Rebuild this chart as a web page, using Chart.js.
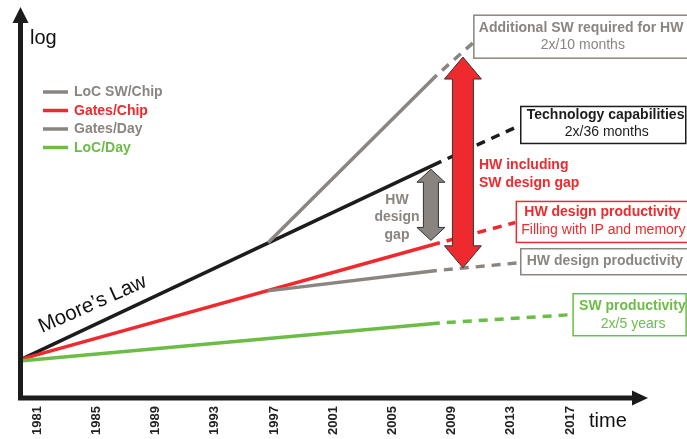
<!DOCTYPE html>
<html>
<head>
<meta charset="utf-8">
<script src="https://cdn.jsdelivr.net/npm/chart.js@4.4.1/dist/chart.umd.min.js"></script>
<style>
  html, body { margin: 0; background: #fff; }
  #wrap { width: 687px; height: 439px; position: relative; }
</style>
</head>
<body>
<div id="wrap"><canvas id="gapChart"></canvas></div>
<script>
// tick labels on the time axis
const years = [1981, 1985, 1989, 1993, 1997, 2001, 2005, 2009, 2013, 2017];

// each series: [start, end of solid part, end of dashed projection]
// y is in arbitrary log units (0 = time axis, 100 = top of the log axis)
const locSwYears = [1996.6, 2008.0, 2010.5];
const locSwValues = [39.7, 82.6, 91.0];

const techYears = [1980, 2008.3, 2013.6];
const techValues = [10.0, 60.5, 69.7];

const gatesChipYears = [1980, 2008.2, 2013.3];
const gatesChipValues = [10.0, 39.7, 44.9];

const gatesDayYears = [1996.6, 2008.0, 2013.6];
const gatesDayValues = [27.4, 32.6, 34.6];

const locDayYears = [1980, 2008.2, 2017.0];
const locDayValues = [9.5, 19.2, 21.3];

// the two gap arrows: [year, top, bottom]
const swGapArrow = [2009.76, 87.2, 33.3];
const hwGapArrow = [2007.6, 58.5, 40.3];

const legendLabels = ["LoC SW/Chip", "Gates/Chip", "Gates/Day", "LoC/Day"];

const GRAY = "#8b8581";
const RED = "#ee2a2e";
const GREEN = "#6cbd45";
const BLACK = "#1c1c1c";
const legendColors = [GRAY, RED, GRAY, GREEN];
const FONT = '"Liberation Sans", Arial, Helvetica, sans-serif';

function part(xs, ys, from, to) {
  const out = [];
  for (let i = from; i <= to; i++) out.push({ x: xs[i], y: ys[i] });
  return out;
}

function solid(xs, ys, color) {
  return {
    data: part(xs, ys, 0, 1),
    borderColor: color,
    borderWidth: 3.5,
    pointRadius: 0,
    tension: 0,
  };
}

function dashed(xs, ys, color) {
  return {
    data: part(xs, ys, 1, 2),
    borderColor: color,
    borderWidth: 3.5,
    borderDash: [9, 7],
    borderDashOffset: 9,
    pointRadius: 0,
    tension: 0,
  };
}

// callout boxes at the end of the dashed projections
const notes = [
  { xs: locSwYears, ys: locSwValues, color: GRAY, dx: 0, dy: -27, h: 43, w: 240,
    lines: [["Additional SW required for HW", "bold", "left", 5, 13],
            ["2x/10 months", "normal", "center", 109, 30]] },
  { xs: techYears, ys: techValues, color: BLACK, dx: 1, dy: -19, h: 37, w: 165,
    lines: [["Technology capabilities", "bold", "left", 6, 9],
            ["2x/36 months", "normal", "center", 86, 26]] },
  { xs: gatesChipYears, ys: gatesChipValues, color: RED, dx: 1, dy: -21, h: 41, w: 240,
    lines: [["HW design productivity", "bold", "left", 8, 11],
            ["Filling with IP and memory", "normal", "left", 5, 29]] },
  { xs: gatesDayYears, ys: gatesDayValues, color: GRAY, dx: 1, dy: -14, h: 26, w: 240,
    lines: [["HW design productivity", "bold", "left", 6, 12]] },
  { xs: locDayYears, ys: locDayValues, color: GREEN, dx: 3, dy: -21, h: 42, w: 113,
    lines: [["SW productivity", "bold", "left", 6, 12],
            ["2x/5 years", "normal", "center", 60, 30]] },
];

function doubleArrow(ctx, cx, yTop, yBot, shaftW, headW, headL, fill) {
  ctx.beginPath();
  ctx.moveTo(cx, yTop);
  ctx.lineTo(cx + headW / 2, yTop + headL);
  ctx.lineTo(cx + shaftW / 2, yTop + headL);
  ctx.lineTo(cx + shaftW / 2, yBot - headL);
  ctx.lineTo(cx + headW / 2, yBot - headL);
  ctx.lineTo(cx, yBot);
  ctx.lineTo(cx - headW / 2, yBot - headL);
  ctx.lineTo(cx - shaftW / 2, yBot - headL);
  ctx.lineTo(cx - shaftW / 2, yTop + headL);
  ctx.lineTo(cx - headW / 2, yTop + headL);
  ctx.closePath();
  ctx.fillStyle = fill;
  ctx.fill();
  ctx.strokeStyle = "#333";
  ctx.lineWidth = 1;
  ctx.stroke();
}

const decorations = {
  id: "decorations",
  afterDatasetsDraw(chart) {
    const ctx = chart.ctx;
    const xs = chart.scales.x;
    const ys = chart.scales.y;
    const area = chart.chartArea;
    ctx.save();

    // gap arrows
    doubleArrow(ctx, xs.getPixelForValue(hwGapArrow[0]), ys.getPixelForValue(hwGapArrow[1]),
      ys.getPixelForValue(hwGapArrow[2]), 15, 28, 13, "#8a8480");
    doubleArrow(ctx, xs.getPixelForValue(swGapArrow[0]), ys.getPixelForValue(swGapArrow[1]),
      ys.getPixelForValue(swGapArrow[2]), 21, 37, 22, RED);

    // callout boxes
    ctx.textBaseline = "middle";
    notes.forEach((n) => {
      const bx = xs.getPixelForValue(n.xs[2]) + n.dx;
      const by = ys.getPixelForValue(n.ys[2]) + n.dy;
      ctx.fillStyle = "#fff";
      ctx.fillRect(bx, by, n.w, n.h);
      ctx.strokeStyle = n.color;
      ctx.lineWidth = 1.5;
      ctx.strokeRect(bx, by, n.w, n.h);
      n.lines.forEach((l) => {
        ctx.font = l[1] + " 14px " + FONT;
        ctx.textAlign = l[2];
        ctx.fillStyle = n.color;
        ctx.fillText(l[0], bx + l[3], by + l[4]);
      });
    });

    // gap labels
    ctx.font = "bold 14px " + FONT;
    ctx.fillStyle = GRAY;
    ctx.textAlign = "center";
    ["HW", "design", "gap"].forEach((t, i) => ctx.fillText(t, 397, 200 + i * 17.5));
    ctx.fillStyle = RED;
    ctx.textAlign = "left";
    ctx.fillText("HW including", 479, 165);
    ctx.fillText("SW design gap", 479, 183);

    // legend
    legendLabels.forEach((t, i) => {
      const y = 92 + i * 18.5;
      ctx.strokeStyle = legendColors[i];
      ctx.lineWidth = 3.5;
      ctx.beginPath();
      ctx.moveTo(43, y);
      ctx.lineTo(68, y);
      ctx.stroke();
      ctx.font = "bold 14px " + FONT;
      ctx.fillStyle = legendColors[i];
      ctx.fillText(t, 74, y + 0.5);
    });

    // Moore's Law along the black line
    ctx.save();
    ctx.translate(42, 333);
    ctx.rotate(-24 * Math.PI / 180);
    ctx.font = "20.5px " + FONT;
    ctx.fillStyle = "#111";
    ctx.textBaseline = "alphabetic";
    ctx.fillText("Moore\u2019s Law", 0, 0);
    ctx.restore();

    // axes with arrow heads
    const ax = area.left + 0.5;
    const ay = area.bottom;
    ctx.strokeStyle = BLACK;
    ctx.fillStyle = BLACK;
    ctx.lineWidth = 5;
    ctx.beginPath();
    ctx.moveTo(ax, ay + 2.5);
    ctx.lineTo(ax, area.top + 14);
    ctx.moveTo(ax - 2.5, ay);
    ctx.lineTo(area.right - 14, ay);
    ctx.stroke();
    ctx.beginPath();
    ctx.moveTo(ax, area.top);
    ctx.lineTo(ax + 8, area.top + 16);
    ctx.lineTo(ax - 8, area.top + 16);
    ctx.closePath();
    ctx.fill();
    ctx.beginPath();
    ctx.moveTo(area.right, ay);
    ctx.lineTo(area.right - 16, ay - 7.5);
    ctx.lineTo(area.right - 16, ay + 7.5);
    ctx.closePath();
    ctx.fill();

    // axis titles
    ctx.font = "20px " + FONT;
    ctx.fillStyle = "#111";
    ctx.textAlign = "left";
    ctx.textBaseline = "middle";
    ctx.fillText("log", 30, 38);
    ctx.fillText("time", 589, 421);
    ctx.restore();
  },
};

new Chart(document.getElementById("gapChart"), {
  type: "line",
  data: {
    datasets: [
      solid(locDayYears, locDayValues, GREEN),
      dashed(locDayYears, locDayValues, GREEN),
      solid(gatesDayYears, gatesDayValues, GRAY),
      dashed(gatesDayYears, gatesDayValues, GRAY),
      solid(gatesChipYears, gatesChipValues, RED),
      dashed(gatesChipYears, gatesChipValues, RED),
      solid(locSwYears, locSwValues, GRAY),
      dashed(locSwYears, locSwValues, GRAY),
      solid(techYears, techValues, BLACK),
      dashed(techYears, techValues, BLACK),
    ],
  },
  options: {
    responsive: true,
    maintainAspectRatio: false,
    animation: false,
    layout: { padding: { left: 20, right: 39, top: 7, bottom: 0 } },
    plugins: { legend: { display: false }, tooltip: { enabled: false } },
    scales: {
      x: {
        type: "linear",
        min: 1979.85,
        max: 2022.26,
        grid: { display: false, drawTicks: false },
        border: { display: false },
        afterBuildTicks: (scale) => {
          scale.ticks = years.map((v) => ({ value: v }));
        },
        afterFit: (scale) => {
          scale.height = 41;
        },
        ticks: {
          minRotation: 90,
          maxRotation: 90,
          autoSkip: false,
          padding: 8,
          color: "#222",
          font: { family: FONT, size: 13, weight: "bold" },
          callback: (v) => String(v),
        },
      },
      y: {
        display: false,
        min: 0,
        max: 100,
      },
    },
  },
  plugins: [decorations],
});
</script>
</body>
</html>
